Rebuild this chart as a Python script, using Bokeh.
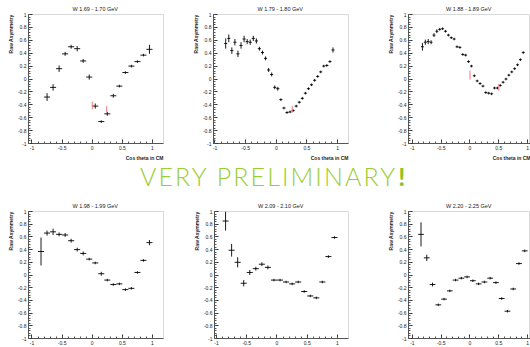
import numpy as np
from bokeh.plotting import figure
from bokeh.models import FixedTicker, Range1d, Title, Div
from bokeh.layouts import column, row
from bokeh.embed import file_html
from bokeh.resources import INLINE

titles = ["W  1.69 - 1.70 GeV", "W  1.79 - 1.80 GeV", "W  1.88 - 1.89 GeV",
          "W  1.98 - 1.99 GeV", "W  2.09 - 2.10 GeV", "W  2.20 - 2.25 GeV"]

y_ticks = [-1, -0.8, -0.6, -0.4, -0.2, 0, 0.2, 0.4, 0.6, 0.8, 1]
y_tick_labels = ["-1", "-0.8", "-0.6", "-0.4", "-0.2", "0", "0.2", "0.4", "0.6", "0.8", "1"]
x_ticks = [-1, -0.5, 0, 0.5, 1]
x_tick_labels = ["-1", "-0.5", "0", "0.5", "1"]

# Panel 1: W 1.69-1.70
p1_x = [-0.75, -0.65, -0.55, -0.45, -0.35, -0.25, -0.15, -0.05, 0.05, 0.15,
        0.25, 0.35, 0.45, 0.55, 0.65, 0.75, 0.85, 0.95]
p1_y = [-0.28, -0.13, 0.16, 0.39, 0.50, 0.47, 0.28, 0.03, -0.42, -0.66,
        -0.54, -0.26, -0.11, 0.10, 0.20, 0.27, 0.37, 0.46]
p1_ey = [0.06, 0.05, 0.05, 0.03, 0.03, 0.04, 0.03, 0.04, 0.04, 0.02,
         0.03, 0.03, 0.02, 0.02, 0.02, 0.02, 0.02, 0.07]
p1_rx = [0.0, 0.24]
p1_ry = [-0.41, -0.47]
p1_rey = [0.06, 0.05]

# Panel 2: W 1.79-1.80
p2_x = [-0.825, -0.775, -0.725, -0.675, -0.625, -0.575, -0.525, -0.475, -0.425,
        -0.375, -0.325, -0.275, -0.225, -0.175, -0.125, -0.075, -0.025, 0.025,
        0.075, 0.125, 0.175, 0.225, 0.275, 0.325, 0.375, 0.425, 0.475, 0.525,
        0.575, 0.625, 0.675, 0.725, 0.775, 0.825, 0.875, 0.925]
p2_y = [0.55, 0.63, 0.44, 0.57, 0.39, 0.52, 0.62, 0.58, 0.57,
        0.63, 0.59, 0.47, 0.41, 0.32, 0.14, 0.07, -0.13, -0.15,
        -0.32, -0.45, -0.52, -0.51, -0.49, -0.42, -0.36, -0.30, -0.22, -0.15,
        -0.09, -0.02, 0.04, 0.11, 0.20, 0.21, 0.27, 0.45]
p2_ey = [0.08, 0.06, 0.05, 0.05, 0.05, 0.05, 0.05, 0.04, 0.04,
         0.04, 0.04, 0.03, 0.03, 0.03, 0.03, 0.03, 0.03, 0.03,
         0.02, 0.02, 0.02, 0.02, 0.02, 0.02, 0.02, 0.02, 0.02, 0.02,
         0.02, 0.02, 0.02, 0.02, 0.02, 0.02, 0.02, 0.04]
p2_rx = [0.26]
p2_ry = [-0.47]
p2_rey = [0.05]

# Panel 3: W 1.88-1.89
p3_x = [-0.825, -0.775, -0.725, -0.675, -0.625, -0.575, -0.525, -0.475, -0.425,
        -0.375, -0.325, -0.275, -0.225, -0.175, -0.125, -0.075, -0.025, 0.025,
        0.075, 0.125, 0.175, 0.225, 0.275, 0.325, 0.375, 0.425, 0.475, 0.525,
        0.575, 0.625, 0.675, 0.725, 0.775, 0.825, 0.875, 0.925]
p3_y = [0.50, 0.57, 0.58, 0.57, 0.68, 0.74, 0.77, 0.78, 0.74,
        0.68, 0.64, 0.62, 0.50, 0.49, 0.38, 0.37, 0.27, 0.20,
        0.05, -0.03, -0.07, -0.11, -0.21, -0.22, -0.23, -0.14, -0.14, -0.10,
        -0.05, 0.00, 0.06, 0.11, 0.16, 0.22, 0.30, 0.41]
p3_ey = [0.06, 0.04, 0.04, 0.03, 0.03, 0.03, 0.02, 0.02, 0.02,
         0.02, 0.02, 0.02, 0.02, 0.02, 0.02, 0.02, 0.02, 0.02,
         0.02, 0.02, 0.02, 0.02, 0.02, 0.02, 0.02, 0.02, 0.02, 0.02,
         0.02, 0.02, 0.02, 0.02, 0.02, 0.02, 0.02, 0.02]
p3_rx = [0.0, 0.5]
p3_ry = [0.06, -0.13]
p3_rey = [0.07, 0.05]

# Panel 4: W 1.98-1.99
p4_x = [-0.85, -0.75, -0.65, -0.55, -0.45, -0.35, -0.25, -0.15, -0.05, 0.05,
        0.15, 0.25, 0.35, 0.45, 0.55, 0.65, 0.75, 0.85, 0.95]
p4_y = [0.37, 0.66, 0.68, 0.64, 0.63, 0.54, 0.40, 0.34, 0.25, 0.19,
        0.02, -0.08, -0.15, -0.14, -0.23, -0.21, 0.04, 0.23, 0.51]
p4_ey = [0.22, 0.04, 0.05, 0.03, 0.03, 0.03, 0.03, 0.03, 0.02, 0.02,
         0.03, 0.02, 0.02, 0.02, 0.02, 0.02, 0.02, 0.02, 0.04]

# Panel 5: W 2.09-2.10
p5_x = [-0.85, -0.75, -0.65, -0.55, -0.45, -0.35, -0.25, -0.15, -0.05, 0.05,
        0.15, 0.25, 0.35, 0.45, 0.55, 0.65, 0.75, 0.85, 0.95]
p5_y = [0.85, 0.39, 0.20, -0.13, 0.04, 0.10, 0.17, 0.12, -0.08, -0.08,
        -0.11, -0.14, -0.11, -0.26, -0.33, -0.36, -0.11, 0.29, 0.59]
p5_ey = [0.15, 0.10, 0.08, 0.05, 0.04, 0.03, 0.03, 0.03, 0.02, 0.02,
         0.02, 0.02, 0.02, 0.02, 0.02, 0.02, 0.02, 0.02, 0.02]

# Panel 6: W 2.20-2.25
p6_x = [-0.85, -0.75, -0.65, -0.55, -0.45, -0.35, -0.25, -0.15, -0.05, 0.05,
        0.15, 0.25, 0.35, 0.45, 0.55, 0.65, 0.75, 0.85, 0.95]
p6_y = [0.64, 0.27, -0.15, -0.47, -0.38, -0.25, -0.08, -0.05, -0.03, -0.09,
        -0.14, -0.11, -0.05, -0.12, -0.37, -0.57, -0.22, 0.18, 0.38]
p6_ey = [0.19, 0.05, 0.03, 0.02, 0.02, 0.02, 0.02, 0.02, 0.02, 0.02,
         0.02, 0.02, 0.02, 0.02, 0.02, 0.02, 0.02, 0.02, 0.02]

FONT = "Liberation Sans"


def make_panel(title, xs, ys, eys, ex, rxs, rys, reys, width, height, left, right,
               top, bottom, xr, xlabel):
    p = figure(width=width, height=height, output_backend="svg", toolbar_location=None,
               x_range=Range1d(*xr), y_range=Range1d(-1, 1),
               min_border_left=left, min_border_right=right,
               min_border_top=top, min_border_bottom=bottom)
    p.background_fill_color = "white"
    p.border_fill_color = "white"
    p.outline_line_color = "#d8d8d8"
    p.grid.visible = False
    p.title.text = title
    p.title.align = "center"
    p.title.text_font = FONT
    p.title.text_font_size = "5.5px"
    p.title.text_font_style = "normal"
    p.title.text_color = "#222222"
    p.title.standoff = 6
    p.title.offset = 0

    p.yaxis.ticker = FixedTicker(ticks=y_ticks, minor_ticks=list(np.round(np.arange(-1, 1.001, 0.04), 3)))
    p.yaxis.major_label_overrides = dict(zip(y_ticks, y_tick_labels))
    p.xaxis.ticker = FixedTicker(ticks=x_ticks, minor_ticks=list(np.round(np.arange(-1, 1.001, 0.1), 3)))
    p.xaxis.major_label_overrides = dict(zip(x_ticks, x_tick_labels))
    for ax in (p.xaxis, p.yaxis):
        ax.axis_line_color = "#333333"
        ax.axis_line_width = 0.8
        ax.major_tick_in = 4
        ax.major_tick_out = 0
        ax.minor_tick_in = 2
        ax.minor_tick_out = 0
        ax.major_tick_line_color = "#333333"
        ax.minor_tick_line_color = "#555555"
        ax.major_label_text_font = FONT
        ax.major_label_text_font_size = "5px"
        ax.major_label_text_color = "#222222"
        ax.major_label_standoff = 2
    p.yaxis.major_label_orientation = "horizontal"

    xs = np.array(xs)
    ys = np.array(ys)
    eys = np.array(eys)
    p.segment(xs - ex, ys, xs + ex, ys, line_color="black", line_width=0.9)
    p.segment(xs, ys - eys, xs, ys + eys, line_color="black", line_width=0.9)
    if rxs:
        rxs = np.array(rxs)
        rys = np.array(rys)
        reys = np.array(reys)
        p.segment(rxs, rys - reys, rxs, rys + reys, line_color="#ee7777", line_width=1.0)

    p.add_layout(Title(text="Raw Asymmetry", align="right", text_font=FONT,
                       text_font_size="5px", text_font_style="bold", text_color="#222222",
                       standoff=1, offset=0), "left")
    if xlabel:
        p.add_layout(Title(text="Cos theta in CM", align="right", text_font=FONT,
                           text_font_size="5px", text_font_style="bold", text_color="#222222",
                           standoff=0, offset=0), "below")
    return p


f1 = make_panel(titles[0], p1_x, p1_y, p1_ey, 0.05, p1_rx, p1_ry, p1_rey,
                190, 160, 28, 27, 14, 16, (-1.058, 1.183), True)
f2 = make_panel(titles[1], p2_x, p2_y, p2_ey, 0.025, p2_rx, p2_ry, p2_rey,
                195, 160, 22, 37, 14, 16, (-1.024, 1.178), True)
f3 = make_panel(titles[2], p3_x, p3_y, p3_ey, 0.025, p3_rx, p3_ry, p3_rey,
                145, 160, 18, 0, 14, 16, (-1.067, 1.05), True)
f4 = make_panel(titles[3], p4_x, p4_y, p4_ey, 0.05, [], [], [],
                190, 150, 28, 27, 14, 8, (-1.058, 1.183), False)
f5 = make_panel(titles[4], p5_x, p5_y, p5_ey, 0.05, [], [], [],
                195, 150, 24, 37, 14, 8, (-1.033, 1.182), False)
f6 = make_panel(titles[5], p6_x, p6_y, p6_ey, 0.05, [], [], [],
                145, 150, 18, 0, 14, 8, (-1.067, 1.05), False)

banner = ('<div style="font-family:Lato,sans-serif;font-size:25px;line-height:25px;'
          'font-weight:300;letter-spacing:2.1px;color:#9ACD32;white-space:nowrap;'
          'padding-left:140px;padding-top:4px;">VERY PRELIMINARY'
          '<span style="font-weight:bold;color:#8DC21F;letter-spacing:0;margin-left:1px;">!</span></div>')
mid = Div(text=banner, width=530, height=37, margin=0)

layout = column(row(f1, f2, f3), mid, row(f4, f5, f6))
open("out.html", "w").write(file_html(layout, INLINE))
